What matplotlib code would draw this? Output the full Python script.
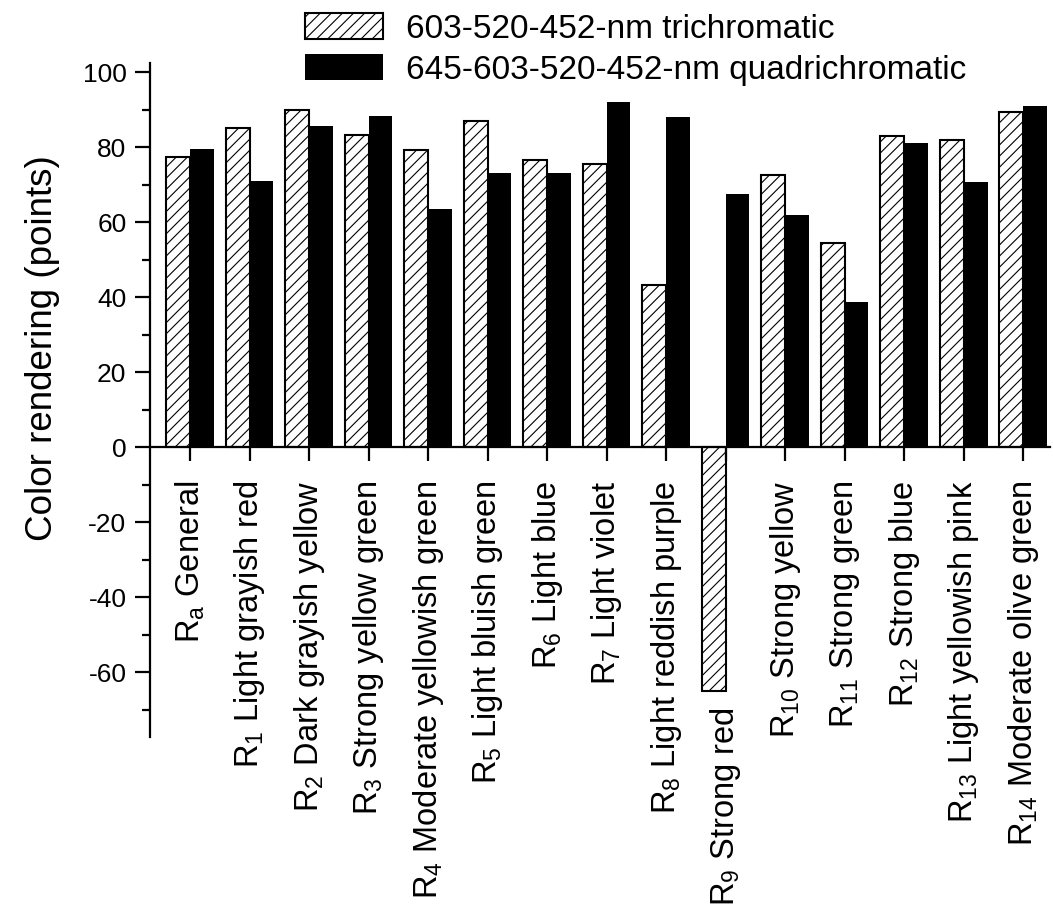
import numpy as np
import matplotlib
matplotlib.use("Agg")
import matplotlib.pyplot as plt
from matplotlib.ticker import MultipleLocator
from matplotlib.transforms import offset_copy

plt.rcParams["font.family"] = ["Liberation Sans", "DejaVu Sans"]
plt.rcParams["mathtext.default"] = "regular"
plt.rcParams["axes.unicode_minus"] = False
plt.rcParams["hatch.linewidth"] = 0.8

categories = [
    r"R$_a$ General",
    r"R$_1$ Light grayish red",
    r"R$_2$ Dark grayish yellow",
    r"R$_3$ Strong yellow green",
    r"R$_4$ Moderate yellowish green",
    r"R$_5$ Light bluish green",
    r"R$_6$ Light blue",
    r"R$_7$ Light violet",
    r"R$_8$ Light reddish purple",
    r"R$_9$ Strong red",
    r"R$_{10}$ Strong yellow",
    r"R$_{11}$ Strong green",
    r"R$_{12}$ Strong blue",
    r"R$_{13}$ Light yellowish pink",
    r"R$_{14}$ Moderate olive green",
]
trichromatic = [77.4, 85.0, 89.9, 83.1, 79.2, 86.9, 76.5, 75.6, 43.2, -65.0, 72.5, 54.3, 82.9, 81.9, 89.4]
quadrichromatic = [79.4, 70.9, 85.7, 88.3, 63.5, 73.2, 73.2, 92.0, 88.1, 67.6, 61.9, 38.8, 81.2, 70.6, 90.9]
series_names = ["603-520-452-nm trichromatic", "645-603-520-452-nm quadrichromatic"]

fig = plt.figure(figsize=(10.53, 9.09), dpi=100)
ax = fig.add_axes([150 / 1053, 172 / 909, 900 / 1053, 674 / 909])

x = np.arange(len(categories))
w = 0.4
ax.bar(x - w / 2, trichromatic, w, facecolor="white", edgecolor="black",
       hatch="///", linewidth=1.5, label=series_names[0])
ax.bar(x + w / 2, quadrichromatic, w, color="black", edgecolor="black",
       linewidth=0, label=series_names[1])

ax.set_xlim(-0.672, 14.45)
ax.set_ylim(-77.3, 102.4)

# left axis plus a zero line that acts as the x axis
ax.spines["top"].set_visible(False)
ax.spines["right"].set_visible(False)
ax.spines["bottom"].set_position(("data", 0))
ax.spines["left"].set_linewidth(1.6)
ax.spines["bottom"].set_linewidth(1.6)

ax.yaxis.set_major_locator(MultipleLocator(20))
ax.yaxis.set_minor_locator(MultipleLocator(10))
ax.tick_params(axis="y", which="major", direction="out", length=11, width=1.6,
               labelsize=19, pad=6)
ax.tick_params(axis="y", which="minor", direction="out", length=6, width=1.6)

# R9 label sits below its negative bar, so it is drawn separately
labels = list(categories)
labels[9] = ""
ax.set_xticks(x)
ax.set_xticklabels(labels, rotation=90, fontsize=23.5, va="top", ha="center")
ax.tick_params(axis="x", direction="out", length=10, width=1.6, pad=14)
ax.text(x[9], trichromatic[9], categories[9], rotation=90, fontsize=23.5,
        ha="center", va="top",
        transform=offset_copy(ax.transData, fig=fig, x=0, y=-16, units="dots"))

ax.set_ylabel("Color rendering (points)", fontsize=26.5)
ax.yaxis.set_label_coords(-0.1, 0.577)

fig.legend(loc="upper left", bbox_to_anchor=(288 / 1053, 1 + 4 / 909),
           frameon=False, fontsize=24, handlelength=2.35, handleheight=0.85,
           handletextpad=0.7, labelspacing=0.28, borderpad=0.0)

fig.savefig("out.png", dpi=100)
